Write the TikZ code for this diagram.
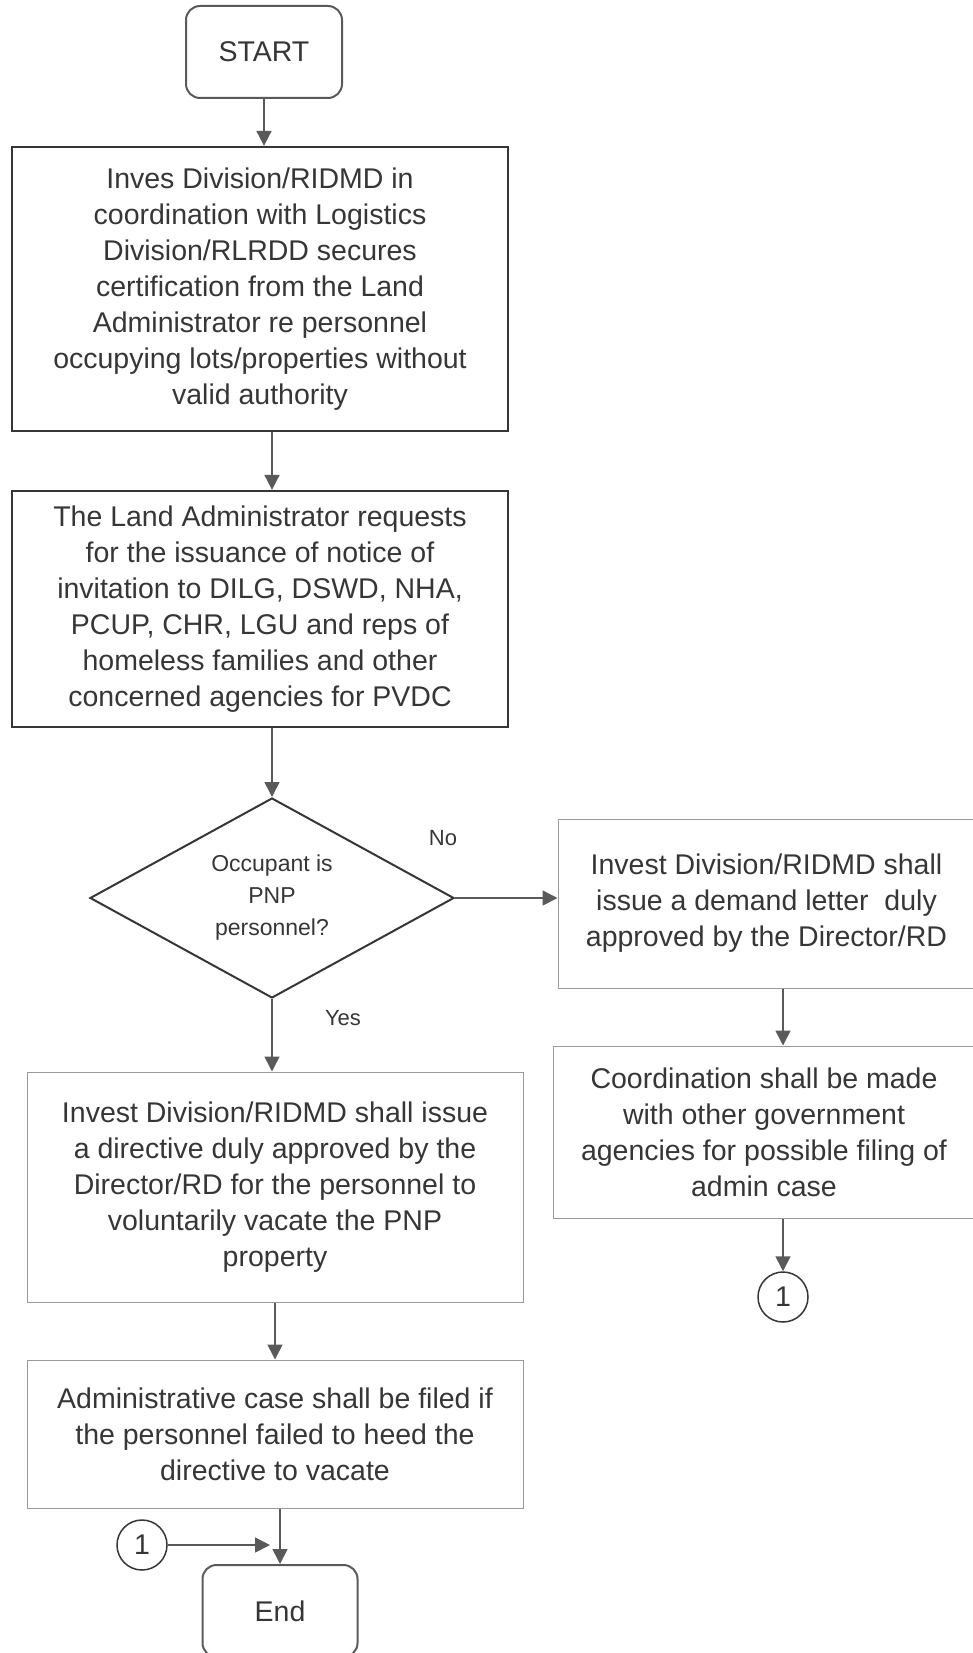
\documentclass[tikz,border=0pt]{standalone}
\usepackage{fontspec}
\setmainfont{Liberation Sans}
\usetikzlibrary{shapes.geometric,arrows.meta}
\definecolor{ink}{HTML}{363636}
\definecolor{edge}{HTML}{5A5A5A}
\definecolor{pale}{HTML}{9A9A9A}

\begin{document}
\begin{tikzpicture}[x=1pt, y=-1pt,
    every node/.style={text=ink, align=center, inner sep=0pt, font=\fontsize{28.5}{36}\selectfont},
    term/.style={draw=edge, line width=2pt, rounded corners=14pt, minimum width=156pt, minimum height=92pt},
    darkbox/.style={draw=ink, line width=2.2pt, minimum width=496pt},
    lightbox/.style={draw=pale, line width=1pt},
    decision/.style={diamond, aspect=1.8, draw=ink, line width=2pt, minimum width=364pt, minimum height=200pt, font=\fontsize{23}{32}\selectfont},
    conn/.style={circle, draw=ink, line width=1.5pt, minimum size=50pt},
    lbl/.style={font=\fontsize{22}{26}\selectfont},
    arr/.style={draw=edge, line width=1.6pt, -{Triangle[length=15pt,width=15pt]}}]
    \useasboundingbox (0,0) rectangle (972,1653);

    % Nodes
    \node[term] (start) at (264,52) {START};
    \node[darkbox, minimum height=284pt] (box1) at (260,289) {Inves Division/RIDMD in\\coordination with Logistics\\Division/RLRDD secures\\certification from the Land\\Administrator re personnel\\occupying lots/properties without\\valid authority};
    \node[darkbox, minimum height=236pt] (box2) at (260,609) {The Land Administrator requests\\for the issuance of notice of\\invitation to DILG, DSWD, NHA,\\PCUP, CHR, LGU and reps of\\homeless families and other\\concerned agencies for PVDC};
    \node[decision] (dec) at (272,898) {Occupant is\\PNP\\personnel?};
    \node[lightbox, minimum width=417pt, minimum height=169pt] (box3) at (766.5,903.5) {Invest Division/RIDMD shall\\issue a demand letter~ duly\\approved by the Director/RD};
    \node[lightbox, minimum width=422pt, minimum height=172pt] (box4) at (764,1132) {Coordination shall be made\\with other government\\agencies for possible filing of\\admin case};
    \node[conn] (c1) at (783,1297) {1};
    \node[lightbox, minimum width=496pt, minimum height=230pt] (box5) at (275,1187) {Invest Division/RIDMD shall issue\\a directive duly approved by the\\Director/RD for the personnel to\\voluntarily vacate the PNP\\property};
    \node[lightbox, minimum width=496pt, minimum height=148pt] (box6) at (275,1434) {Administrative case shall be filed if\\the personnel failed to heed the\\directive to vacate};
    \node[conn] (c2) at (142,1545) {1};
    \node[term, minimum width=155pt] (end) at (280,1611) {End};
    \node[lbl] (no) at (443,838) {No};
    \node[lbl] (yes) at (343,1018) {Yes};
    \coordinate (join) at ([xshift=-10pt]c2 -| end.north);

    % Edges
    \draw[arr] (start.south) -- (start.south |- box1.north);
    \draw[arr] (dec.north |- box1.south) -- (dec.north |- box2.north);
    \draw[arr] (dec.north |- box2.south) -- (dec.north);
    \draw[arr] (dec.east) -- (dec.east -| box3.west);
    \draw[arr] (c1.north |- box3.south) -- (c1.north |- box4.north);
    \draw[arr] (c1.north |- box4.south) -- (c1.north);
    \draw[arr] (dec.south) -- (dec.south |- box5.north);
    \draw[arr] (box5) -- (box6);
    \draw[arr] (end.north |- box6.south) -- (end.north);
    \draw[arr] (c2) -- (join);
\end{tikzpicture}
\end{document}
